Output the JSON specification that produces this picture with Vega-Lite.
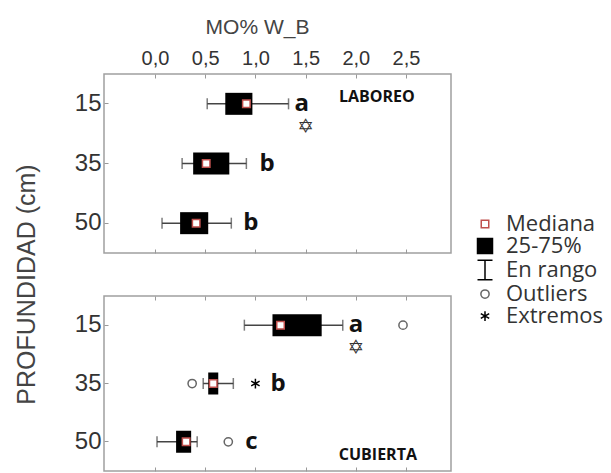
{
  "$schema": "https://vega.github.io/schema/vega-lite/v6.json",
  "padding": {"left": 13, "top": 15, "right": 0, "bottom": 0},
  "background": "white",
  "bounds": "flush",
  "config": {
    "view": {"stroke": "#a0a0a0", "strokeWidth": 1.5},
    "font": "Liberation Sans",
    "axis": {"domain": false, "grid": false, "labelColor": "#333", "titleColor": "#444", "tickColor": "#999", "titleFontWeight": "normal"},
    "legend": {"orient": "none", "legendX": 370, "legendY": 139, "padding": 0, "labelFont": "Open Sans", "labelFontSize": 22, "labelColor": "#333", "symbolSize": 225, "symbolStrokeWidth": 1.5, "rowPadding": 0, "labelOffset": 10}
  },
  "datasets": {
    "boxes": [
      {"panel": "LABOREO", "depth": "15", "lo": 0.52, "q1": 0.70, "q3": 0.97, "hi": 1.33, "letter": "a", "letter_x": 1.39},
      {"panel": "LABOREO", "depth": "35", "lo": 0.27, "q1": 0.38, "q3": 0.74, "hi": 0.91, "letter": "b", "letter_x": 1.04},
      {"panel": "LABOREO", "depth": "50", "lo": 0.07, "q1": 0.25, "q3": 0.53, "hi": 0.76, "letter": "b", "letter_x": 0.88},
      {"panel": "CUBIERTA", "depth": "15", "lo": 0.89, "q1": 1.17, "q3": 1.66, "hi": 1.87, "letter": "a", "letter_x": 1.93},
      {"panel": "CUBIERTA", "depth": "35", "lo": 0.48, "q1": 0.53, "q3": 0.63, "hi": 0.78, "letter": "b", "letter_x": 1.15},
      {"panel": "CUBIERTA", "depth": "50", "lo": 0.02, "q1": 0.21, "q3": 0.36, "hi": 0.42, "letter": "c", "letter_x": 0.90}
    ],
    "points": [
      {"panel": "LABOREO", "depth": "15", "value": 0.91, "kind": "Mediana"},
      {"panel": "LABOREO", "depth": "35", "value": 0.51, "kind": "Mediana"},
      {"panel": "LABOREO", "depth": "50", "value": 0.41, "kind": "Mediana"},
      {"panel": "CUBIERTA", "depth": "15", "value": 1.25, "kind": "Mediana"},
      {"panel": "CUBIERTA", "depth": "35", "value": 0.58, "kind": "Mediana"},
      {"panel": "CUBIERTA", "depth": "50", "value": 0.31, "kind": "Mediana"},
      {"panel": "CUBIERTA", "depth": "15", "value": 2.47, "kind": "Outliers"},
      {"panel": "CUBIERTA", "depth": "35", "value": 0.37, "kind": "Outliers"},
      {"panel": "CUBIERTA", "depth": "50", "value": 0.73, "kind": "Outliers"},
      {"panel": "CUBIERTA", "depth": "35", "value": 1.00, "kind": "Extremos"}
    ],
    "stars": [
      {"panel": "LABOREO", "depth": "15", "value": 1.50},
      {"panel": "CUBIERTA", "depth": "15", "value": 2.00}
    ],
    "tags": [
      {"panel": "LABOREO", "depth": "15", "value": 2.21, "text": "LABOREO"},
      {"panel": "CUBIERTA", "depth": "50", "value": 2.22, "text": "CUBIERTA"}
    ]
  },
  "spacing": 43,
  "resolve": {"scale": {"shape": "shared", "fill": "shared", "stroke": "shared"}},
  "vconcat": [
    {
      "width": 347,
      "height": 179,
      "resolve": {"axis": {"x": "independent"}},
      "layer": [
        {
          "data": {"name": "boxes"},
          "transform": [{"filter": "datum.panel === 'LABOREO'"}],
          "mark": {"type": "rule", "color": "#444", "strokeWidth": 1.5},
          "encoding": {
            "x": {"field": "lo", "type": "quantitative", "scale": {"domain": [-0.508, 2.948], "nice": false, "zero": false},
              "axis": {"orient": "top", "title": "MO% W_B", "titleX": 153, "values": [0, 0.5, 1, 1.5, 2, 2.5], "labelExpr": "replace(format(datum.value, '.1f'), '.', ',')", "labelFontSize": 20, "titleFontSize": 21, "tickSize": -4, "labelPadding": 10, "titlePadding": 11}},
            "x2": {"field": "hi"},
            "y": {"field": "depth", "type": "nominal", "scale": {"domain": ["15", "35", "50"], "paddingInner": 0, "paddingOuter": 0},
              "axis": {"title": "PROFUNDIDAD (cm)", "titleFontSize": 25, "labelFontSize": 24, "tickSize": -4, "labelPadding": 7, "titlePadding": 35, "labelAngle": 0, "titleY": 210}}
          }
        },
        {
          "data": {"name": "boxes"},
          "transform": [{"filter": "datum.panel === 'LABOREO'"}],
          "mark": {"type": "tick", "color": "#444", "thickness": 1.5, "size": 11},
          "encoding": {
            "x": {"field": "lo", "type": "quantitative",
              "axis": {"orient": "bottom", "title": "", "labels": false, "values": [0, 0.5, 1, 1.5, 2, 2.5], "tickSize": -4}},
            "y": {"field": "depth", "type": "nominal"}
          }
        },
        {
          "data": {"name": "boxes"},
          "transform": [{"filter": "datum.panel === 'LABOREO'"}],
          "mark": {"type": "tick", "color": "#444", "thickness": 1.5, "size": 11},
          "encoding": {
            "x": {"field": "hi", "type": "quantitative", "axis": null},
            "y": {"field": "depth", "type": "nominal"}
          }
        },
        {
          "data": {"name": "boxes"},
          "transform": [{"filter": "datum.panel === 'LABOREO'"}],
          "mark": {"type": "bar", "color": "black", "size": 22},
          "encoding": {
            "x": {"field": "q1", "type": "quantitative", "axis": null},
            "x2": {"field": "q3"},
            "y": {"field": "depth", "type": "nominal"}
          }
        },
        {
          "data": {"name": "points"},
          "transform": [{"filter": "datum.panel === 'LABOREO'"}],
          "mark": {"type": "point", "opacity": 1, "strokeWidth": 1.5, "size": 225},
          "encoding": {
            "x": {"field": "value", "type": "quantitative", "axis": null},
            "y": {"field": "depth", "type": "nominal"},
            "shape": {"field": "kind", "type": "nominal", "title": null,
              "scale": {"domain": ["Mediana", "25-75%", "En rango", "Outliers", "Extremos"],
                "range": ["M-0.5,-0.5H0.5V0.5H-0.5Z", "M-1,-1H1V1H-1Z", "M-1,-1.3H1M0,-1.3V1.3M-1,1.3H1", "M-0.55,0A0.55,0.55 0 1,0 0.55,0A0.55,0.55 0 1,0 -0.55,0Z", "M0,-0.65V0.65M-0.56,-0.33L0.56,0.33M-0.56,0.33L0.56,-0.33"]}},
            "fill": {"field": "kind", "type": "nominal", "title": null,
              "scale": {"domain": ["Mediana", "25-75%", "En rango", "Outliers", "Extremos"], "range": ["white", "black", "transparent", "white", "transparent"]}},
            "stroke": {"field": "kind", "type": "nominal", "title": null,
              "scale": {"domain": ["Mediana", "25-75%", "En rango", "Outliers", "Extremos"], "range": ["#c0504d", "black", "black", "#666", "black"]}}
          }
        },
        {
          "data": {"name": "stars"},
          "transform": [{"filter": "datum.panel === 'LABOREO'"}],
          "mark": {"type": "text", "font": "DejaVu Sans", "fontSize": 20, "dy": 23, "color": "#333", "baseline": "middle"},
          "encoding": {
            "x": {"field": "value", "type": "quantitative", "axis": null},
            "y": {"field": "depth", "type": "nominal"},
            "text": {"value": "✡"}
          }
        },
        {
          "data": {"name": "boxes"},
          "transform": [{"filter": "datum.panel === 'LABOREO'"}],
          "mark": {"type": "text", "font": "Open Sans", "fontWeight": "bold", "fontSize": 24, "align": "left", "baseline": "middle", "color": "#111"},
          "encoding": {
            "x": {"field": "letter_x", "type": "quantitative", "axis": null},
            "y": {"field": "depth", "type": "nominal"},
            "text": {"field": "letter"}
          }
        },
        {
          "data": {"name": "tags"},
          "transform": [{"filter": "datum.panel === 'LABOREO'"}],
          "mark": {"type": "text", "font": "Open Sans", "fontWeight": "bold", "fontSize": 16, "align": "center", "baseline": "middle", "dy": -7, "color": "#111"},
          "encoding": {
            "x": {"field": "value", "type": "quantitative", "axis": null},
            "y": {"field": "depth", "type": "nominal"},
            "text": {"field": "text"}
          }
        }
      ]
    },
    {
      "width": 347,
      "height": 175,
      "resolve": {"axis": {"x": "independent"}},
      "layer": [
        {
          "data": {"name": "boxes"},
          "transform": [{"filter": "datum.panel === 'CUBIERTA'"}],
          "mark": {"type": "rule", "color": "#444", "strokeWidth": 1.5},
          "encoding": {
            "x": {"field": "lo", "type": "quantitative", "scale": {"domain": [-0.508, 2.948], "nice": false, "zero": false},
              "axis": {"orient": "top", "title": "", "values": [0, 0.5, 1, 1.5, 2, 2.5], "labels": false, "tickSize": -4}},
            "x2": {"field": "hi"},
            "y": {"field": "depth", "type": "nominal", "scale": {"domain": ["15", "35", "50"], "paddingInner": 0, "paddingOuter": 0},
              "axis": {"title": "", "labelFontSize": 24, "tickSize": -4, "labelPadding": 7, "labelAngle": 0}}
          }
        },
        {
          "data": {"name": "boxes"},
          "transform": [{"filter": "datum.panel === 'CUBIERTA'"}],
          "mark": {"type": "tick", "color": "#444", "thickness": 1.5, "size": 11},
          "encoding": {
            "x": {"field": "lo", "type": "quantitative",
              "axis": {"orient": "bottom", "title": "", "labels": false, "values": [0, 0.5, 1, 1.5, 2, 2.5], "tickSize": -4}},
            "y": {"field": "depth", "type": "nominal"}
          }
        },
        {
          "data": {"name": "boxes"},
          "transform": [{"filter": "datum.panel === 'CUBIERTA'"}],
          "mark": {"type": "tick", "color": "#444", "thickness": 1.5, "size": 11},
          "encoding": {
            "x": {"field": "hi", "type": "quantitative", "axis": null},
            "y": {"field": "depth", "type": "nominal"}
          }
        },
        {
          "data": {"name": "boxes"},
          "transform": [{"filter": "datum.panel === 'CUBIERTA'"}],
          "mark": {"type": "bar", "color": "black", "size": 22},
          "encoding": {
            "x": {"field": "q1", "type": "quantitative", "axis": null},
            "x2": {"field": "q3"},
            "y": {"field": "depth", "type": "nominal"}
          }
        },
        {
          "data": {"name": "points"},
          "transform": [{"filter": "datum.panel === 'CUBIERTA'"}],
          "mark": {"type": "point", "opacity": 1, "strokeWidth": 1.5, "size": 225},
          "encoding": {
            "x": {"field": "value", "type": "quantitative", "axis": null},
            "y": {"field": "depth", "type": "nominal"},
            "shape": {"field": "kind", "type": "nominal", "title": null,
              "scale": {"domain": ["Mediana", "25-75%", "En rango", "Outliers", "Extremos"],
                "range": ["M-0.5,-0.5H0.5V0.5H-0.5Z", "M-1,-1H1V1H-1Z", "M-1,-1.3H1M0,-1.3V1.3M-1,1.3H1", "M-0.55,0A0.55,0.55 0 1,0 0.55,0A0.55,0.55 0 1,0 -0.55,0Z", "M0,-0.65V0.65M-0.56,-0.33L0.56,0.33M-0.56,0.33L0.56,-0.33"]}},
            "fill": {"field": "kind", "type": "nominal", "title": null,
              "scale": {"domain": ["Mediana", "25-75%", "En rango", "Outliers", "Extremos"], "range": ["white", "black", "transparent", "white", "transparent"]}},
            "stroke": {"field": "kind", "type": "nominal", "title": null,
              "scale": {"domain": ["Mediana", "25-75%", "En rango", "Outliers", "Extremos"], "range": ["#c0504d", "black", "black", "#666", "black"]}}
          }
        },
        {
          "data": {"name": "stars"},
          "transform": [{"filter": "datum.panel === 'CUBIERTA'"}],
          "mark": {"type": "text", "font": "DejaVu Sans", "fontSize": 20, "dy": 23, "color": "#333", "baseline": "middle"},
          "encoding": {
            "x": {"field": "value", "type": "quantitative", "axis": null},
            "y": {"field": "depth", "type": "nominal"},
            "text": {"value": "✡"}
          }
        },
        {
          "data": {"name": "boxes"},
          "transform": [{"filter": "datum.panel === 'CUBIERTA'"}],
          "mark": {"type": "text", "font": "Open Sans", "fontWeight": "bold", "fontSize": 24, "align": "left", "baseline": "middle", "color": "#111"},
          "encoding": {
            "x": {"field": "letter_x", "type": "quantitative", "axis": null},
            "y": {"field": "depth", "type": "nominal"},
            "text": {"field": "letter"}
          }
        },
        {
          "data": {"name": "tags"},
          "transform": [{"filter": "datum.panel === 'CUBIERTA'"}],
          "mark": {"type": "text", "font": "Open Sans", "fontWeight": "bold", "fontSize": 16, "align": "center", "baseline": "middle", "dy": 13, "color": "#111"},
          "encoding": {
            "x": {"field": "value", "type": "quantitative", "axis": null},
            "y": {"field": "depth", "type": "nominal"},
            "text": {"field": "text"}
          }
        }
      ]
    }
  ]
}
